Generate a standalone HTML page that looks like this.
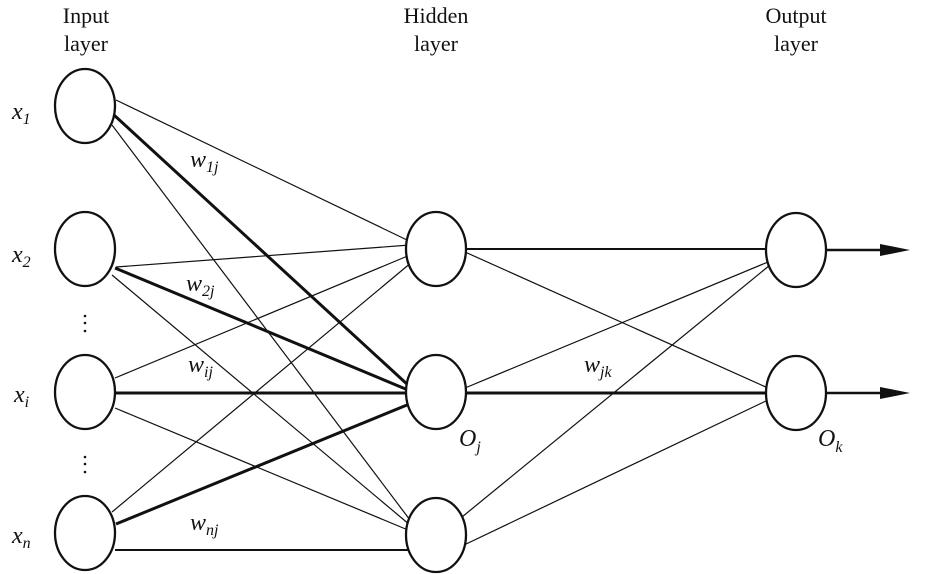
<!DOCTYPE html>
<html><head><style>body{margin:0;background:#fff}svg{display:block}text{font-family:"Liberation Serif",serif;fill:#111}</style></head><body>
<svg width="929" height="574" viewBox="0 0 929 574" xmlns="http://www.w3.org/2000/svg">
<g stroke="#111" fill="none">
<g stroke-width="1.2">
<line x1="116" y1="100" x2="407" y2="240"/>
<line x1="112" y1="125" x2="410" y2="520"/>
<line x1="116" y1="267" x2="410" y2="245"/>
<line x1="112" y1="275" x2="410" y2="525"/>
<line x1="115" y1="378" x2="410" y2="255"/>
<line x1="115" y1="408" x2="408" y2="530"/>
<line x1="112" y1="512" x2="412" y2="262"/>
<line x1="465" y1="252" x2="768" y2="388"/>
<line x1="465" y1="388" x2="768" y2="262"/>
<line x1="462" y1="517" x2="770" y2="265"/>
<line x1="464" y1="545" x2="768" y2="400"/>
</g>
<g stroke-width="2">
<line x1="465" y1="249" x2="766" y2="249"/>
<line x1="115" y1="550" x2="410" y2="550"/>
</g>
<g stroke-width="3">
<line x1="114" y1="115" x2="408" y2="385"/>
<line x1="115" y1="268" x2="408" y2="390"/>
<line x1="116" y1="393" x2="406" y2="393"/>
<line x1="116" y1="524" x2="407" y2="405"/>
<line x1="466" y1="393" x2="766" y2="393"/>
</g>
<g stroke-width="2.5">
<line x1="826" y1="250" x2="885" y2="250"/>
<line x1="826" y1="393" x2="885" y2="393"/>
</g>
<g stroke-width="2.3" fill="#fff">
<ellipse cx="85" cy="106" rx="30" ry="37"/>
<ellipse cx="85" cy="249" rx="30" ry="37"/>
<ellipse cx="85" cy="392" rx="30" ry="37"/>
<ellipse cx="85" cy="533" rx="30" ry="37"/>
<ellipse cx="436" cy="249" rx="30" ry="37"/>
<ellipse cx="436" cy="392" rx="30" ry="37"/>
<ellipse cx="436" cy="535" rx="30" ry="37"/>
<ellipse cx="796" cy="250" rx="30" ry="37"/>
<ellipse cx="796" cy="393" rx="30" ry="37"/>
</g>
</g>
<polygon points="880,244 910,250 880,256" fill="#111"/>
<polygon points="880,387 910,393 880,399" fill="#111"/>
<g font-size="22" text-anchor="middle">
<text x="86" y="23">Input</text><text x="86" y="51">layer</text>
<text x="436" y="23">Hidden</text><text x="436" y="51">layer</text>
<text x="796" y="23">Output</text><text x="796" y="51">layer</text>
</g>
<g font-size="24" font-style="italic">
<text x="12" y="119">x<tspan font-size="16" dy="5">1</tspan></text>
<text x="12" y="262">x<tspan font-size="16" dy="5">2</tspan></text>
<text x="14" y="402">x<tspan font-size="16" dy="5">i</tspan></text>
<text x="12" y="543">x<tspan font-size="16" dy="5">n</tspan></text>
<text x="190" y="167">w<tspan font-size="16" dy="5">1j</tspan></text>
<text x="186" y="291">w<tspan font-size="16" dy="5">2j</tspan></text>
<text x="188" y="372">w<tspan font-size="16" dy="5">ij</tspan></text>
<text x="190" y="530">w<tspan font-size="16" dy="5">nj</tspan></text>
<text x="584" y="372">w<tspan font-size="16" dy="5">jk</tspan></text>
<text x="459" y="446">O<tspan font-size="16" dy="6">j</tspan></text>
<text x="818" y="446">O<tspan font-size="16" dy="6">k</tspan></text>
</g>
<g fill="#111">
<circle cx="85" cy="316" r="1.3"/><circle cx="85" cy="323" r="1.3"/><circle cx="85" cy="331" r="1.3"/>
<circle cx="85" cy="457" r="1.3"/><circle cx="85" cy="464" r="1.3"/><circle cx="85" cy="472" r="1.3"/>
</g>
</svg>
</body></html>
